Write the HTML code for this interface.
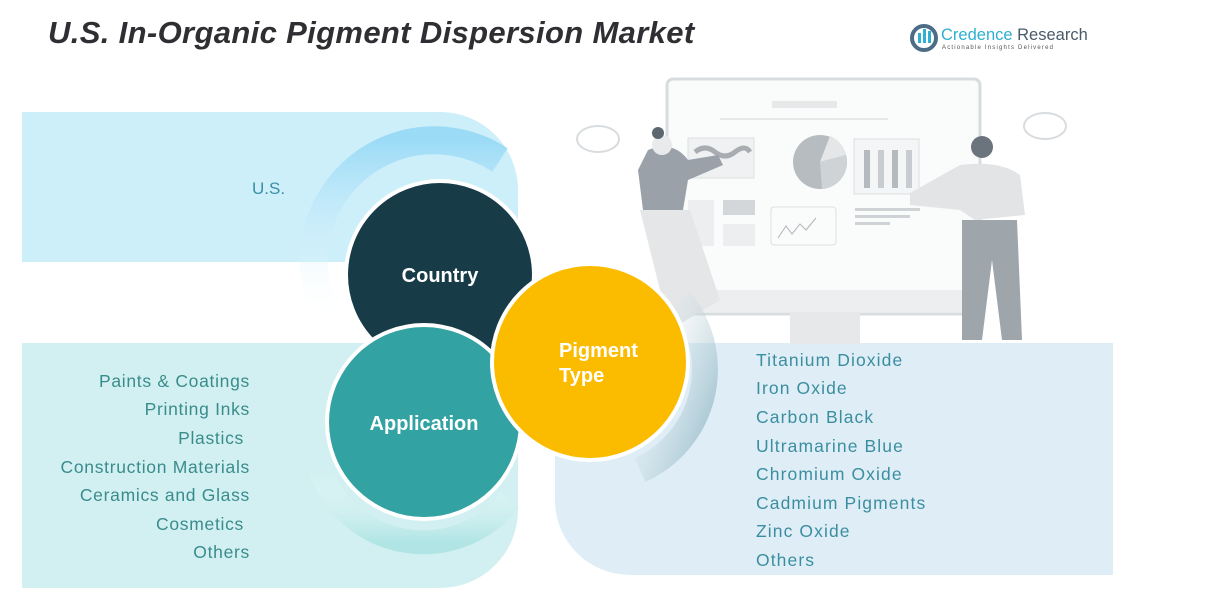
<!DOCTYPE html>
<html><head><meta charset="utf-8"><style>
html,body{margin:0;padding:0;background:#fff;width:1213px;height:608px;overflow:hidden;font-family:"Liberation Sans",sans-serif}
</style></head><body>
<svg width="1213" height="608" viewBox="0 0 1213 608" xmlns="http://www.w3.org/2000/svg" font-family="Liberation Sans, sans-serif">
<defs>
<linearGradient id="gb" x1="0" y1="0" x2="0" y2="1"><stop offset="0" stop-color="#8fd6f5"/><stop offset="1" stop-color="#ffffff" stop-opacity="0"/></linearGradient>
<linearGradient id="gt" x1="0" y1="0" x2="0" y2="1"><stop offset="0" stop-color="#ffffff" stop-opacity="0"/><stop offset="1" stop-color="#a9e2e2"/></linearGradient>
<linearGradient id="gy" x1="0" y1="0" x2="1" y2="1"><stop offset="0" stop-color="#ffffff" stop-opacity="0"/><stop offset="1" stop-color="#7fa9b8"/></linearGradient>
</defs>
<path d="M22 112 H440 A78 78 0 0 1 518 190 V262 H22 Z" fill="#cdeffa"/>
<path d="M22 343 H518 V510 A78 78 0 0 1 440 588 H22 Z" fill="#d2f0f1"/>
<path d="M555 343 H1113 V575 H630 A75 75 0 0 1 555 500 Z" fill="#dfeef6"/>
<g fill="none" stroke="#d8dcdf" stroke-width="3">
<rect x="667" y="79" width="313" height="235" rx="6" fill="#fafbfb"/>
</g>
<rect x="672" y="290" width="303" height="22" fill="#eceeef"/>
<rect x="790" y="312" width="70" height="32" fill="#e6e8ea"/>
<rect x="772" y="101" width="65" height="7" fill="#e6e8ea"/>
<rect x="720" y="118" width="168" height="2" fill="#e6e8ea"/>
<rect x="688" y="138" width="66" height="40" fill="#f0f1f2" stroke="#dcdfe2"/>
<path d="M695 152 q10 -8 20 0 t20 0 t15 0" stroke="#a9adb1" stroke-width="5" fill="none"/>
<circle cx="820" cy="162" r="27" fill="#b7bcc1"/>
<path d="M820 162 L830 136 A27 27 0 0 1 846 155 Z" fill="#e4e6e8"/>
<path d="M820 162 L846 155 A27 27 0 0 1 822 189 Z" fill="#cfd3d6"/>
<rect x="854" y="139" width="65" height="55" fill="#f4f5f6" stroke="#dcdfe2"/>
<rect x="864" y="150" width="6" height="38" fill="#b5babe"/><rect x="878" y="150" width="6" height="38" fill="#c8ccd0"/><rect x="892" y="150" width="6" height="38" fill="#b5babe"/><rect x="906" y="150" width="6" height="38" fill="#c8ccd0"/>
<rect x="688" y="200" width="26" height="46" fill="#eceeef"/><rect x="723" y="200" width="32" height="15" fill="#d4d7da"/><rect x="723" y="224" width="32" height="22" fill="#eceeef"/>
<rect x="771" y="207" width="65" height="38" rx="3" fill="#fafbfb" stroke="#dcdfe2"/>
<path d="M778 238 l8 -12 l6 8 l8 -10 l6 6 l10 -12" stroke="#b0b4b8" fill="none"/>
<rect x="855" y="208" width="65" height="3" fill="#cfd3d6"/><rect x="855" y="215" width="55" height="3" fill="#cfd3d6"/><rect x="855" y="222" width="35" height="3" fill="#cfd3d6"/>
<path d="M648 150 q25 -10 40 10 l30 -5 l5 10 l-35 15 l-5 30 l-40 0 l-5 -40 z" fill="#9aa1a8"/>
<path d="M640 210 l50 0 l30 90 l-50 30 z" fill="#e4e6e8"/>
<circle cx="662" cy="145" r="10" fill="#e9eaeb"/><circle cx="658" cy="133" r="6" fill="#5d6770"/>
<path d="M960 165 q40 -5 60 10 l5 40 l-50 5 l-15 -10 l-50 -5 l0 -12 z" fill="#e2e4e6"/>
<path d="M962 220 l55 0 l5 120 l-20 0 l-10 -80 l-10 80 l-20 0 z" fill="#9ea5ab"/>
<circle cx="982" cy="147" r="11" fill="#6b747c"/>
<ellipse cx="598" cy="139" rx="21" ry="13" fill="#fff" stroke="#d8dcdf" stroke-width="2"/>
<ellipse cx="1045" cy="126" rx="21" ry="13" fill="#fff" stroke="#d8dcdf" stroke-width="2"/>
<path d="M330 320 A120 120 0 0 1 500 160" stroke="url(#gb)" stroke-width="28" fill="none" opacity="0.8"/>
<path d="M320 470 A110 110 0 0 0 510 500" stroke="url(#gt)" stroke-width="24" fill="none" opacity="0.8"/>
<path d="M680 300 A110 110 0 0 1 640 470" stroke="url(#gy)" stroke-width="26" fill="none" opacity="0.7"/>
<circle cx="440" cy="275" r="94" fill="#173c48" stroke="#fff" stroke-width="4"/>
<circle cx="424" cy="422" r="97" fill="#33a2a2" stroke="#fff" stroke-width="4"/>
<circle cx="590" cy="362" r="98" fill="#fbbc00" stroke="#fff" stroke-width="4"/>
<g fill="#fff" font-weight="bold" font-size="20">
<text x="440" y="282" text-anchor="middle">Country</text>
<text x="424" y="430" text-anchor="middle">Application</text>
<text x="559" y="357">Pigment</text>
<text x="559" y="382">Type</text>
</g>
<text x="48" y="43" font-size="31" font-weight="bold" font-style="italic" fill="#2f2f33" letter-spacing="0.35">U.S. In-Organic Pigment Dispersion Market</text>
<circle cx="924" cy="38" r="12" fill="none" stroke="#4c6d86" stroke-width="4"/>
<rect x="918" y="33" width="3" height="10" fill="#2fb0d0"/><rect x="923" y="29" width="3" height="14" fill="#2fb0d0"/><rect x="928" y="31" width="3" height="12" fill="#2fb0d0"/>
<text x="941" y="40" font-size="16.5" fill="#2fb0d0">Credence <tspan fill="#4a5a68">Research</tspan></text>
<text x="942" y="49" font-size="6" fill="#555" letter-spacing="1.2">Actionable Insights Delivered</text>
<text x="252" y="194" font-size="17" fill="#3a8fa6">U.S.</text>
<g font-size="17.5" fill="#3a8c8c" text-anchor="end" letter-spacing="0.7">
<text x="250" y="387">Paints &amp; Coatings</text>
<text x="250" y="415">Printing Inks</text>
<text x="244" y="444">Plastics</text>
<text x="250" y="473">Construction Materials</text>
<text x="250" y="501">Ceramics and Glass</text>
<text x="244" y="530">Cosmetics</text>
<text x="250" y="558">Others</text>
</g>
<g font-size="17.5" fill="#3b8ea0" letter-spacing="1.1">
<text x="756" y="366">Titanium Dioxide</text>
<text x="756" y="394">Iron Oxide</text>
<text x="756" y="423">Carbon Black</text>
<text x="756" y="452">Ultramarine Blue</text>
<text x="756" y="480">Chromium Oxide</text>
<text x="756" y="509">Cadmium Pigments</text>
<text x="756" y="537">Zinc Oxide</text>
<text x="756" y="566">Others</text>
</g>
</svg>
</body></html>
